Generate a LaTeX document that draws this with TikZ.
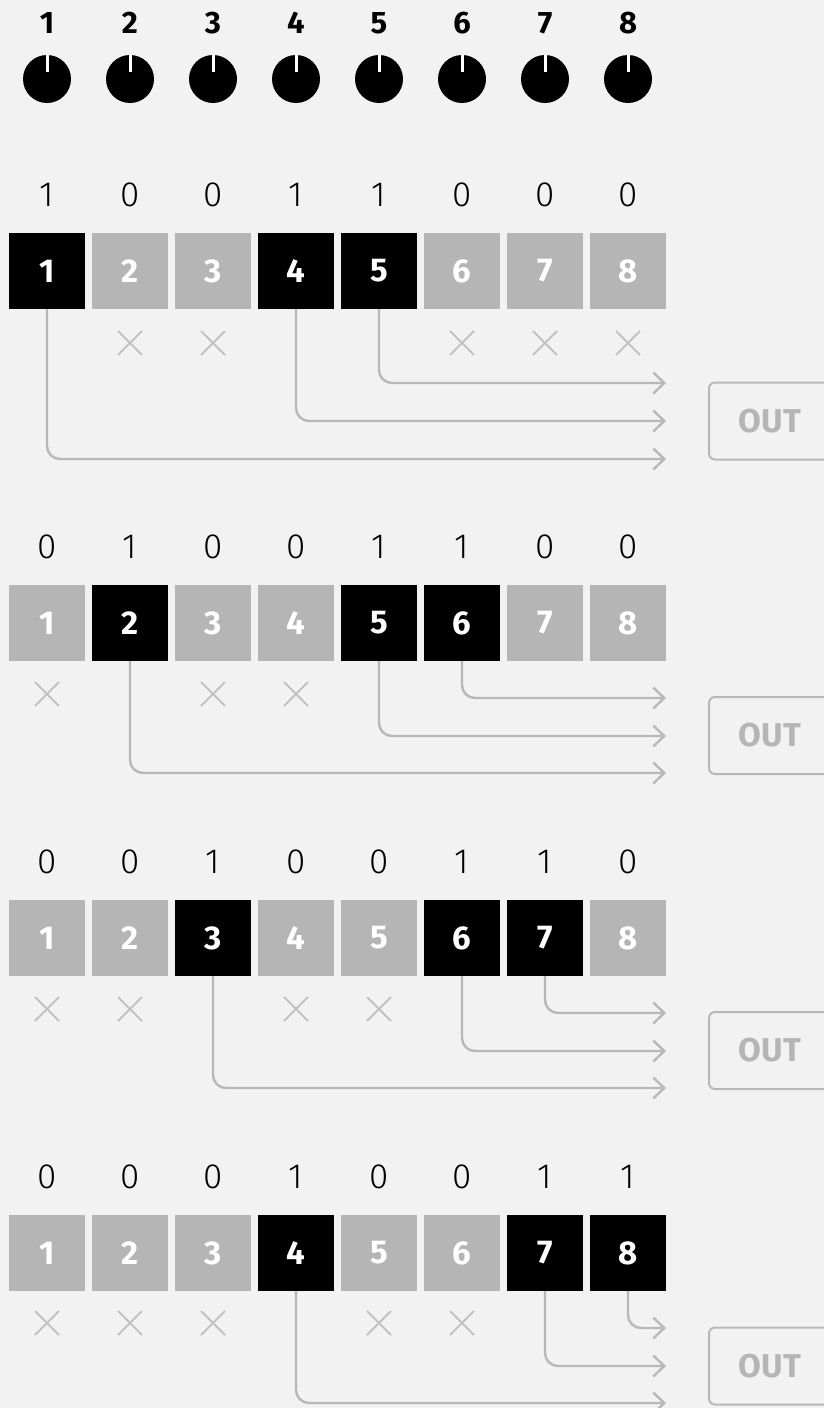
\documentclass[tikz,border=0pt]{standalone}
\usepackage{fontspec}
\setmainfont{Fira Sans}
\newfontfamily\lightfont{Fira Sans Light}
\usetikzlibrary{arrows.meta}
\definecolor{bg}{HTML}{F2F2F2}
\definecolor{gblock}{HTML}{B5B5B5}
\definecolor{gline}{HTML}{B8B8B8}
\definecolor{gx}{HTML}{C2C2C2}
\begin{document}
\begin{tikzpicture}[x=1pt,y=-1pt,
  knobnum/.style={font=\bfseries\fontsize{31}{31}\selectfont, text=black, inner sep=0pt},
  knob/.style={circle, fill=black, minimum size=48pt, inner sep=0pt},
  blk/.style={rectangle, minimum size=76pt, inner sep=0pt, text=white, font=\bfseries\fontsize{33}{33}\selectfont},
  onblk/.style={blk, fill=black},
  offblk/.style={blk, fill=gblock},
  bit/.style={font=\lightfont\fontsize{35}{35}\selectfont, text=black, inner sep=0pt},
  conn/.style={draw=gline, line width=2.4pt, rounded corners=13pt, -{Straight Barb[length=11pt,width=21pt,line width=2.4pt]}},
  cross/.style={draw=gx, line width=2pt},
  outbox/.style={draw=gline, line width=2pt, rounded corners=6pt, minimum width=122pt, minimum height=77pt, text=gblock, font=\bfseries\fontsize{33}{33}\selectfont}
]
\fill[bg] (0,0) rectangle (824,1408);
\useasboundingbox (0,0) rectangle (824,1408);

% knobs
\foreach \k [evaluate=\k as \x using 47+83*(\k-1)] in {1,...,8} {
  \node[knobnum] (n\k) at (\x,23) {\k};
  \node[knob] (k\k) at (\x,79) {};
  \draw[white, line width=3pt] (k\k.north) -- ++(0,17);
}

% row 1
\foreach \k/\b [evaluate=\k as \x using 47+83*(\k-1)] in {1/1,2/0,3/0,4/1,5/1,6/0,7/0,8/0} {
  \node[bit] (t1-\k) at (\x,195) {\b};
  \ifnum\b=1 \node[onblk] (b1-\k) at (\x,271) {\k};
  \else \node[offblk] (b1-\k) at (\x,271) {\k}; \fi
}
\foreach \k [evaluate=\k as \x using 47+83*(\k-1)] in {2,3,6,7,8} {
  \coordinate (x1-\k) at (\x,343);
  \draw[cross] (x1-\k) ++(-12,-12) -- ++(24,24) (x1-\k) ++(-12,12) -- ++(24,-24);
}
\coordinate (e1-1) at (666,383);
\coordinate (e1-2) at (666,421);
\coordinate (e1-3) at (666,459);
\draw[conn] (b1-5.south) |- (e1-1);
\draw[conn] (b1-4.south) |- (e1-2);
\draw[conn] (b1-1.south) |- (e1-3);
\node[outbox] (o1) at (770,421) {OUT};

% row 2
\foreach \k/\b [evaluate=\k as \x using 47+83*(\k-1)] in {1/0,2/1,3/0,4/0,5/1,6/1,7/0,8/0} {
  \node[bit] (t2-\k) at (\x,547) {\b};
  \ifnum\b=1 \node[onblk] (b2-\k) at (\x,623) {\k};
  \else \node[offblk] (b2-\k) at (\x,623) {\k}; \fi
}
\foreach \k [evaluate=\k as \x using 47+83*(\k-1)] in {1,3,4} {
  \coordinate (x2-\k) at (\x,694);
  \draw[cross] (x2-\k) ++(-12,-12) -- ++(24,24) (x2-\k) ++(-12,12) -- ++(24,-24);
}
\coordinate (e2-1) at (666,698);
\coordinate (e2-2) at (666,736);
\coordinate (e2-3) at (666,773);
\draw[conn] (b2-6.south) |- (e2-1);
\draw[conn] (b2-5.south) |- (e2-2);
\draw[conn] (b2-2.south) |- (e2-3);
\node[outbox] (o2) at (770,735.5) {OUT};

% row 3
\foreach \k/\b [evaluate=\k as \x using 47+83*(\k-1)] in {1/0,2/0,3/1,4/0,5/0,6/1,7/1,8/0} {
  \node[bit] (t3-\k) at (\x,862) {\b};
  \ifnum\b=1 \node[onblk] (b3-\k) at (\x,938) {\k};
  \else \node[offblk] (b3-\k) at (\x,938) {\k}; \fi
}
\foreach \k [evaluate=\k as \x using 47+83*(\k-1)] in {1,2,4,5} {
  \coordinate (x3-\k) at (\x,1009);
  \draw[cross] (x3-\k) ++(-12,-12) -- ++(24,24) (x3-\k) ++(-12,12) -- ++(24,-24);
}
\coordinate (e3-1) at (666,1013);
\coordinate (e3-2) at (666,1051);
\coordinate (e3-3) at (666,1088);
\draw[conn] (b3-7.south) |- (e3-1);
\draw[conn] (b3-6.south) |- (e3-2);
\draw[conn] (b3-3.south) |- (e3-3);
\node[outbox] (o3) at (770,1050.5) {OUT};

% row 4
\foreach \k/\b [evaluate=\k as \x using 47+83*(\k-1)] in {1/0,2/0,3/0,4/1,5/0,6/0,7/1,8/1} {
  \node[bit] (t4-\k) at (\x,1177) {\b};
  \ifnum\b=1 \node[onblk] (b4-\k) at (\x,1253) {\k};
  \else \node[offblk] (b4-\k) at (\x,1253) {\k}; \fi
}
\foreach \k [evaluate=\k as \x using 47+83*(\k-1)] in {1,2,3,5,6} {
  \coordinate (x4-\k) at (\x,1323);
  \draw[cross] (x4-\k) ++(-12,-12) -- ++(24,24) (x4-\k) ++(-12,12) -- ++(24,-24);
}
\coordinate (e4-1) at (666,1328);
\coordinate (e4-2) at (666,1366);
\coordinate (e4-3) at (666,1403);
\draw[conn] (b4-8.south) |- (e4-1);
\draw[conn] (b4-7.south) |- (e4-2);
\draw[conn] (b4-4.south) |- (e4-3);
\node[outbox] (o4) at (770,1366) {OUT};
\end{tikzpicture}
\end{document}
